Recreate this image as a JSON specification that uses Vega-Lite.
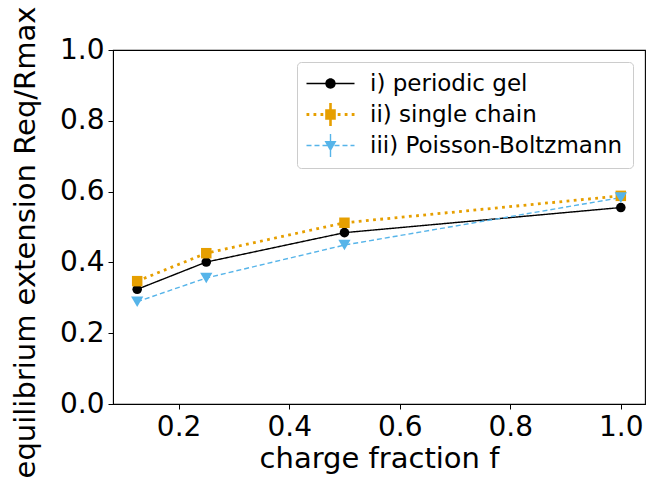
{
  "$schema": "https://vega.github.io/schema/vega-lite/v6.json",
  "width": 532,
  "height": 354,
  "autosize": {"type": "none"},
  "padding": {"left": 113, "top": 50, "right": 19, "bottom": 94},
  "background": "white",
  "config": {
    "font": "DejaVu Sans",
    "view": {"stroke": "black", "strokeWidth": 1.1},
    "axis": {
      "domainColor": "black",
      "tickColor": "black",
      "labelColor": "black",
      "titleColor": "black",
      "labelFontSize": 28,
      "titleFontSize": 29,
      "titleFontWeight": "normal",
      "tickSize": 5,
      "labelPadding": 4,
      "grid": false
    }
  },
  "data": {
    "values": [
      {"f": 0.125, "R": 0.324, "model": "i) periodic gel"},
      {"f": 0.25, "R": 0.401, "model": "i) periodic gel"},
      {"f": 0.5, "R": 0.484, "model": "i) periodic gel"},
      {"f": 1.0, "R": 0.555, "model": "i) periodic gel"},
      {"f": 0.125, "R": 0.347, "model": "ii) single chain"},
      {"f": 0.25, "R": 0.426, "model": "ii) single chain"},
      {"f": 0.5, "R": 0.512, "model": "ii) single chain"},
      {"f": 1.0, "R": 0.588, "model": "ii) single chain"},
      {"f": 0.125, "R": 0.289, "model": "iii) Poisson-Boltzmann"},
      {"f": 0.25, "R": 0.356, "model": "iii) Poisson-Boltzmann"},
      {"f": 0.5, "R": 0.449, "model": "iii) Poisson-Boltzmann"},
      {"f": 1.0, "R": 0.583, "model": "iii) Poisson-Boltzmann"}
    ]
  },
  "encoding": {
    "x": {
      "field": "f", "type": "quantitative",
      "scale": {"domain": [0.08125, 1.04375], "nice": false, "zero": false},
      "axis": {"values": [0.2, 0.4, 0.6, 0.8, 1.0], "format": ".1f", "title": "charge fraction f", "titlePadding": 3}
    },
    "y": {
      "field": "R", "type": "quantitative",
      "scale": {"domain": [0, 1], "nice": false},
      "axis": {"values": [0, 0.2, 0.4, 0.6, 0.8, 1.0], "format": ".1f", "title": "equilibrium extension Req/Rmax", "titlePadding": 19, "titleY": 192}
    }
  },
  "layer": [
    {
      "mark": {"type": "line", "strokeCap": "butt"},
      "encoding": {
        "stroke": {
          "field": "model", "type": "nominal",
          "scale": {
            "domain": ["iii) Poisson-Boltzmann", "ii) single chain", "i) periodic gel"],
            "range": ["#56B4E9", "#E69F00", "#000000"]
          },
          "legend": null
        },
        "strokeDash": {
          "field": "model", "type": "nominal",
          "scale": {
            "type": "ordinal",
            "domain": ["iii) Poisson-Boltzmann", "ii) single chain", "i) periodic gel"],
            "range": [[5, 3], [2.8, 4.4], [1, 0]]
          },
          "legend": null
        },
        "strokeWidth": {
          "field": "model", "type": "nominal",
          "scale": {
            "type": "ordinal",
            "domain": ["iii) Poisson-Boltzmann", "ii) single chain", "i) periodic gel"],
            "range": [1.4, 2.8, 1.4]
          },
          "legend": null
        }
      }
    },
    {
      "encoding": {
        "color": {
          "field": "model", "type": "nominal",
          "scale": {
            "domain": ["i) periodic gel", "ii) single chain", "iii) Poisson-Boltzmann"],
            "range": ["#000000", "#E69F00", "#56B4E9"]
          },
          "legend": {
            "title": null,
            "orient": "top-right",
            "offset": 12,
            "padding": 10,
            "fillColor": "white",
            "strokeColor": "#cccccc",
            "cornerRadius": 4,
            "labelFontSize": 23,
            "labelColor": "black",
            "labelLimit": 400,
            "labelOffset": 40,
            "rowPadding": 7,
            "symbolSize": 4,
            "symbolStrokeWidth": 0,
            "symbolOpacity": 1,
            "encode": {
              "symbols": {
                "update": {
                  "shape": {"signal": "datum.value === 'i) periodic gel' ? 'M-12,-0.7H36V0.7H-12ZM17.2,0A5.2,5.2,0,1,1,6.8,0A5.2,5.2,0,1,1,17.2,0Z' : datum.value === 'ii) single chain' ? 'M-12,-1.4h2.8v2.8h-2.8ZM-5,-1.4h2.8v2.8h-2.8ZM2,-1.4h2.8v2.8h-2.8ZM19.2,-1.4h2.8v2.8h-2.8ZM26.2,-1.4h2.8v2.8h-2.8ZM33.2,-1.4h2.8v2.8h-2.8ZM6.7,-5.3H17.3V5.3H6.7ZM10.7,-11.5H13.3V11.5H10.7Z' : 'M-12,-0.7h5v1.4h-5ZM-4,-0.7h5v1.4h-5ZM4,-0.7h5v1.4h-5ZM16,-0.7h5v1.4h-5ZM24,-0.7h5v1.4h-5ZM32,-0.7h4v1.4h-4ZM6,-4.5H18L12,6ZM11.3,-11.5H12.7V11.5H11.3Z'"},
                  "fill": {"signal": "scale('color', datum.value)"},
                  "fillOpacity": {"value": 1},
                  "stroke": {"value": "transparent"},
                  "strokeWidth": {"value": 0}
                }
              }
            }
          }
        }
      },
      "layer": [
        {
          "transform": [{"filter": "datum.model === 'i) periodic gel'"}],
          "mark": {"type": "point", "shape": "circle", "size": 92, "filled": true, "opacity": 1}
        },
        {
          "transform": [{"filter": "datum.model === 'ii) single chain'"}],
          "mark": {"type": "point", "shape": "square", "size": 110, "filled": true, "opacity": 1}
        },
        {
          "transform": [{"filter": "datum.model === 'iii) Poisson-Boltzmann'"}],
          "mark": {"type": "point", "shape": "triangle-down", "size": 150, "filled": true, "opacity": 1}
        }
      ]
    }
  ]
}
